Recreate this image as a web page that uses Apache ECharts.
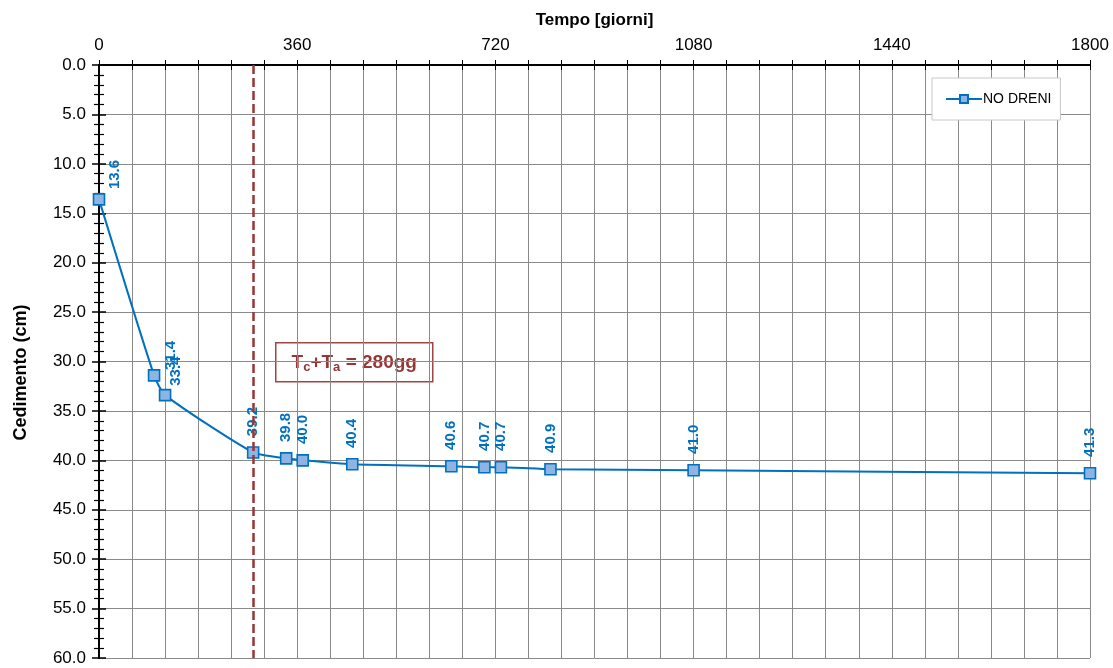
<!DOCTYPE html>
<html><head><meta charset="utf-8">
<script src="https://cdn.jsdelivr.net/npm/echarts@6/dist/echarts.min.js"></script>
<style>html,body{margin:0;padding:0;background:#fff}#c{width:1113px;height:668px}</style>
</head><body><div id="c"></div>
<script>
var days = [0, 100, 120, 280, 340, 370, 460, 640, 700, 730, 820, 1080, 1800];
var cedimento = [13.6, 31.4, 33.4, 39.2, 39.8, 40.0, 40.4, 40.6, 40.7, 40.7, 40.9, 41.0, 41.3];
var seriesName = 'NO DRENI';
var tcta = 280;
var xMax = 1800, xStep = 60, xLabelStep = 360;
var yMax = 60, yStep = 5;

var chart = echarts.init(document.getElementById('c'));
var font = 'Liberation Sans, Arial, sans-serif';
var pts = days.map(function (d, i) { return [d, cedimento[i]]; });
// screen shifts [right, down] for the first crowded labels (placed right of their markers)
var labelShift = { 0: [16, 6], 1: [17, 11], 2: [11, 7] };

function xAx(extra) {
  var base = {
    type: 'value', position: 'top', min: 0, max: xMax, interval: xStep,
    axisLine: { show: true, onZero: false, lineStyle: { color: '#000', width: 2 } },
    axisTick: { show: true, length: 5, lineStyle: { color: '#000', width: 1 } },
    axisLabel: { show: false }, splitLine: { show: false }
  };
  return Object.assign(base, extra || {});
}
function yAx(extra) {
  var base = {
    type: 'value', position: 'left', min: 0, max: yMax, interval: yStep, inverse: true,
    axisLine: { show: true, onZero: false, lineStyle: { color: '#000', width: 2 } },
    axisTick: { show: true, length: 7, lineStyle: { color: '#000', width: 1.5 } },
    minorTick: { show: true, splitNumber: 5, length: 5, lineStyle: { color: '#000', width: 1.2 } },
    axisLabel: { show: false }, splitLine: { show: false }
  };
  return Object.assign(base, extra || {});
}

chart.setOption({
  animation: false,
  backgroundColor: '#fff',
  grid: { left: 99, right: 23, top: 65, bottom: 10, containLabel: false },
  xAxis: [
    xAx({
      name: 'Tempo [giorni]', nameLocation: 'middle', nameGap: 36,
      nameTextStyle: { fontFamily: font, fontWeight: 'bold', fontSize: 17, color: '#000' },
      axisLabel: {
        show: true, fontFamily: font, fontSize: 17, color: '#000', margin: 11,
        formatter: function (v) { return v % xLabelStep === 0 ? String(v) : ''; }
      },
      splitLine: { show: true, lineStyle: { color: '#8a8a8a', width: 1 } }
    }),
    xAx({ axisTick: { show: true, inside: true, length: 5, lineStyle: { color: '#000', width: 1 } } })
  ],
  yAxis: [
    yAx({
      name: 'Cedimento (cm)', nameLocation: 'middle', nameGap: 69, nameRotate: 90,
      nameTextStyle: { fontFamily: font, fontWeight: 'bold', fontSize: 18, color: '#000', padding: [0, 22, 0, 0] },
      axisLabel: {
        show: true, fontFamily: font, fontSize: 17, color: '#000', margin: 13,
        formatter: function (v) { return v.toFixed(1); }
      },
      splitLine: { show: true, lineStyle: { color: '#8a8a8a', width: 1 } }
    }),
    yAx({
      axisTick: { show: true, inside: true, length: 7, lineStyle: { color: '#000', width: 1.5 } },
      minorTick: { show: true, splitNumber: 5, length: 5, lineStyle: { color: '#000', width: 1.2 } }
    })
  ],
  legend: {
    data: [seriesName], left: 932, top: 78, orient: 'vertical',
    padding: [14, 9, 14, 13], itemWidth: 36, itemHeight: 10, itemGap: 4,
    backgroundColor: '#fff', borderColor: '#c8c8c8', borderWidth: 1,
    textStyle: { fontFamily: font, fontSize: 14, color: '#000', padding: [0, 0, 0, -4] }
  },
  series: [{
    name: seriesName, type: 'line', data: pts, xAxisIndex: 0, yAxisIndex: 0,
    smooth: 0.2,
    symbol: 'rect', symbolSize: 11,
    lineStyle: { color: '#0070C0', width: 2 },
    itemStyle: { color: '#8DB4E2', borderColor: '#0070C0', borderWidth: 1.6 },
    label: {
      show: true, position: 'top', distance: 10, rotate: 90, align: 'left', verticalAlign: 'middle',
      fontFamily: font, fontSize: 15, fontWeight: 'bold', color: '#0070C0',
      formatter: function (p) { return p.value[1].toFixed(1); }
    },
    labelLayout: function (p) {
      var s = labelShift[p.dataIndex];
      // label frame is rotated 90deg: dx runs upward, dy runs rightward
      return s ? { dx: -s[1], dy: s[0], hideOverlap: false } : { hideOverlap: false };
    },
    z: 5
  }, {
    name: 'Tc+Ta', type: 'line', data: [], xAxisIndex: 0, yAxisIndex: 0, z: 20,
    markLine: {
      silent: true, symbol: 'none', label: { show: false }, z: 20,
      lineStyle: { color: '#953735', width: 2.5, type: [9, 4] },
      data: [{ xAxis: tcta }]
    }
  }],
  graphic: [{
    type: 'group', left: 275, top: 342, z: 100,
    children: [
      { type: 'rect', shape: { x: 0, y: 0, width: 157, height: 39 },
        style: { fill: '#fff', stroke: '#a04545', lineWidth: 1.5 } },
      { type: 'text', x: 78.5, y: 20,
        style: {
          text: '{b|T}{s|c}{b|+T}{s|a}{b| = 280gg}', align: 'center', verticalAlign: 'middle',
          rich: {
            b: { fontFamily: font, fontSize: 19, fontWeight: 'bold', fill: '#953735', color: '#953735' },
            s: { fontFamily: font, fontSize: 13, fontWeight: 'bold', fill: '#953735', color: '#953735', padding: [10, 0, 0, 0] }
          }
        } }
    ]
  }]
});
</script></body></html>
